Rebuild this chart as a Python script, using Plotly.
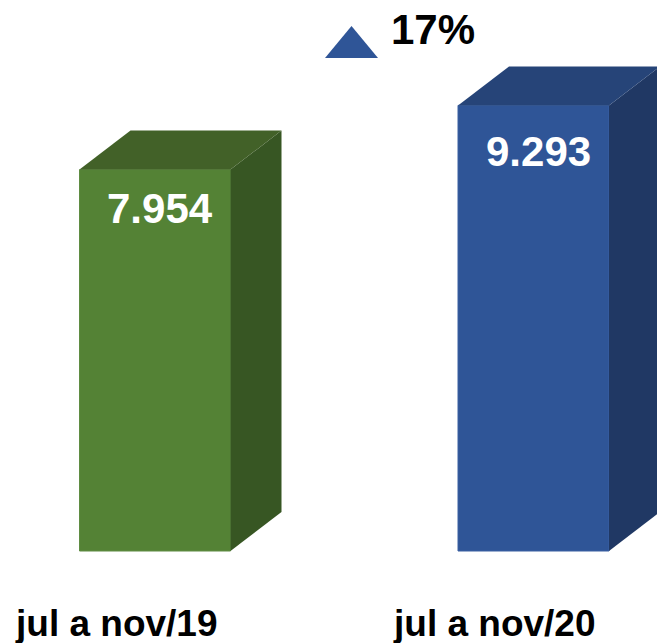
import plotly.graph_objects as go

# Data
categories = ["jul a nov/19", "jul a nov/20"]
values = [7954, 9293]
value_labels = ["7.954", "9.293"]
change_label = "17%"

# Style
W, H = 657, 643
FONT = "Liberation Sans, Arial, sans-serif"
front = ["#548235", "#2F5597"]
top = ["#426128", "#264478"]
side = ["#375623", "#203864"]
edge = ["#5F8C42", "#3A61A2"]

# Scale: full-bleed plot area
px_per_unit_x = 378.5
px_per_unit_y = 0.04795
base_px = 551
first_center_px = 155
bar_width = 151 / px_per_unit_x
depth_x = 51 / px_per_unit_x
depth_y = 39 / px_per_unit_y

x_range = [-first_center_px / px_per_unit_x, (W - first_center_px) / px_per_unit_x]
y_range = [-(H - base_px) / px_per_unit_y, base_px / px_per_unit_y]

fig = go.Figure()
positions = list(range(len(categories)))

for i, v, f, t, s, e in zip(positions, values, front, top, side, edge):
    left, right = i - bar_width / 2, i + bar_width / 2
    # right side face
    fig.add_trace(go.Scatter(
        x=[right, right + depth_x, right + depth_x, right, right],
        y=[0, depth_y, v + depth_y, v, 0],
        mode="lines", fill="toself", fillcolor=s, line=dict(color=s, width=0),
        hoverinfo="skip", showlegend=False))
    # top face
    fig.add_trace(go.Scatter(
        x=[left, left + depth_x, right + depth_x, right, left],
        y=[v, v + depth_y, v + depth_y, v, v],
        mode="lines", fill="toself", fillcolor=t, line=dict(color=t, width=0),
        hoverinfo="skip", showlegend=False))
    # front face
    fig.add_trace(go.Bar(
        x=[i], y=[v], width=bar_width,
        marker=dict(color=f, line=dict(color=e, width=1)),
        showlegend=False, hoverinfo="skip"))

fig.update_layout(
    width=W, height=H,
    margin=dict(l=0, r=0, t=0, b=0),
    paper_bgcolor="white", plot_bgcolor="white",
    xaxis=dict(range=x_range, visible=False, fixedrange=True),
    yaxis=dict(range=y_range, visible=False, fixedrange=True),
    barmode="overlay",
)

# value labels
value_offsets = [39, 46]
for i, v, lab, off in zip(positions, values, value_labels, value_offsets):
    fig.add_annotation(x=i, y=v, text=f"<b>{lab}</b>", showarrow=False,
                       xshift=5, yshift=-off, yanchor="middle",
                       font=dict(family=FONT, size=42, color="white"))

# category labels
for i, c in zip(positions, categories):
    fig.add_annotation(x=i, y=0, text=f"<b>{c}</b>", showarrow=False,
                       xshift=-39, yshift=-72, yanchor="middle",
                       font=dict(family=FONT, size=37, color="black"))

# change indicator
fig.add_shape(type="path", xref="paper", yref="paper",
              path=f"M {325/W} {1-58/H} L {351.5/W} {1-26/H} L {378/W} {1-58/H} Z",
              fillcolor="#2F5597", line=dict(width=0))
fig.add_annotation(xref="paper", yref="paper", x=433/W, y=1-29.5/H,
                   text=f"<b>{change_label}</b>", showarrow=False, yanchor="middle",
                   font=dict(family=FONT, size=42, color="black"))

fig.write_html("out.html", config=dict(displayModeBar=False),
               post_script="document.body.style.margin='0';document.documentElement.style.overflow='hidden';")
